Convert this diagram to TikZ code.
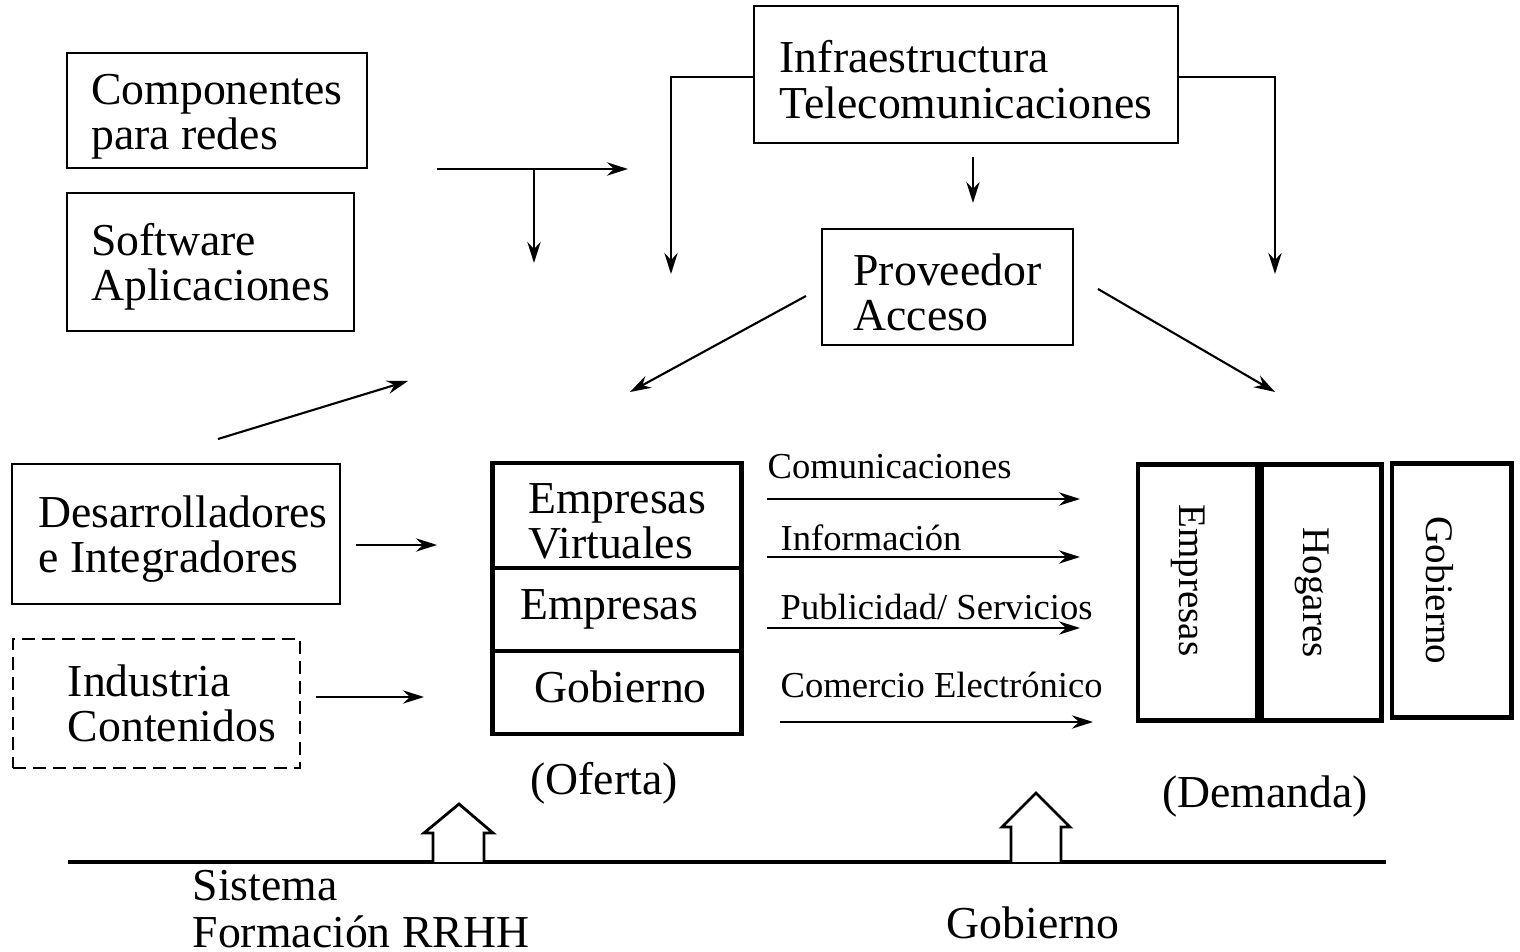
\documentclass[tikz,border=0pt]{standalone}
\usepackage{fontspec}
\setmainfont{Liberation Serif}
\usetikzlibrary{arrows.meta}

\newcommand{\bigfnt}{\fontsize{13}{12.9}\selectfont}
\newcommand{\smlfnt}{\fontsize{10.4}{12}\selectfont}
\newcommand{\rotfnt}{\fontsize{11.1}{12}\selectfont}
\newcommand{\topstrut}{\rule{0pt}{12pt}}

\tikzset{
    box/.style={draw, line width=0.6pt, align=left, inner sep=0pt, font=\bigfnt},
    thickbox/.style={draw, line width=1.4pt, align=left, inner sep=0pt},
    lbl/.style={inner sep=0pt, font=\smlfnt},
    biglbl/.style={inner sep=0pt, align=left, font=\bigfnt},
    flow/.style={->, line width=0.6pt}
}

\begin{document}
\begin{tikzpicture}[x=0.01cm, y=-0.01cm, >={Stealth[length=6pt,width=3.8pt,inset=2pt]}]
            \useasboundingbox (0,0) rectangle (1520,952);

            % suppliers and infrastructure
            \node[box, minimum width=3cm, minimum height=1.15cm] (comp) at (217,110.5) {\topstrut Componentes\\para redes};
            \node[box, minimum width=2.87cm, minimum height=1.38cm] (soft) at (210.5,262) {\topstrut Software\\Aplicaciones};
            \node[box, minimum width=4.24cm, minimum height=1.37cm] (infra) at (966,74.5) {\topstrut Infraestructura\\Telecomunicaciones};
            \node[box, minimum width=2.51cm, minimum height=1.16cm] (prov) at (947.5,287) {\topstrut Proveedor\\Acceso};
            \node[box, minimum width=3.28cm, minimum height=1.4cm] (desa) at (176,534) {\hspace*{0.14cm}\topstrut Desarrolladores\\\hspace*{0.14cm}e Integradores};
            \node[box, dash pattern=on 3.7pt off 2pt, minimum width=2.87cm, minimum height=1.29cm] (indu) at (156.5,703.5) {\hspace*{0.31cm}Industria\\\hspace*{0.31cm}Contenidos};

            % offer
            \begin{scope}[every node/.style={thickbox, font=\bigfnt, minimum width=2.48cm}]
                \node[minimum height=1.05cm] (ofVirt) at (617,515.5) {\topstrut Empresas\\Virtuales};
                \node[minimum height=0.83cm, text height=8pt, text depth=2.5pt] (ofEmp) at (617,609.5) {Empresas\hspace{0.16cm}};
                \node[minimum height=0.83cm, text height=8pt, text depth=2.5pt] (ofGob) at (617,692.5) {\hspace{2pt}Gobierno};
            \end{scope}

            % demand
            \begin{scope}[every node/.style={thickbox, font=\rotfnt, rotate=-90, minimum height=1.19cm, text height=12pt, text depth=1.6pt}]
                \node[minimum width=2.55cm] (dmEmp) at (1197.5,592.5) {Empresas\hspace{0.24cm}};
                \node[minimum width=2.55cm] (dmHog) at (1321.5,592.5) {Hogares};
                \node[minimum width=2.54cm, text height=14pt, text depth=0pt] (dmGob) at (1451.5,590.5) {Gobierno};
            \end{scope}

            % flow labels
            \node[lbl, anchor=west] (lCom) at (767,467) {Comunicaciones};
            \node[lbl, anchor=west] (lInf) at (780,538) {Información};
            \node[lbl, anchor=west] (lPub) at (780,607) {Publicidad/ Servicios};
            \node[lbl, anchor=west] (lEle) at (780,685) {Comercio Electrónico};

            \node[biglbl] (oferta) at (604,783) {(Oferta)};
            \node[biglbl] (demanda) at (1265,797) {(Demanda)};
            \node[biglbl, anchor=west, font=\fontsize{13}{13.4}\selectfont] (sist) at (192,909) {Sistema\\Formación RRHH};
            \node[biglbl] (gobBase) at (1033,923) {Gobierno};

            % free arrow ends
            \coordinate (cCompA) at (437,169);
            \coordinate (cCompB) at (628,169);
            \coordinate (cCompJ) at (534,169);
            \coordinate (cCompD) at (534,263);
            \coordinate (cInfL) at (671,274);
            \coordinate (cInfR) at (1275,274);
            \coordinate (cInfA) at (973,157);
            \coordinate (cInfB) at (973,203);
            \coordinate (cProL1) at (806,296);
            \coordinate (cProL2) at (630,392);
            \coordinate (cProR1) at (1098,289);
            \coordinate (cProR2) at (1275,392);
            \coordinate (cDesU1) at (218,439);
            \coordinate (cDesU2) at (408,381);
            \coordinate (cDes1) at (356,545);
            \coordinate (cDes2) at (437,545);
            \coordinate (cInd1) at (316,697);
            \coordinate (cInd2) at (424,697);

            \coordinate (fCom1) at (767,499);
            \coordinate (fCom2) at (1080,499);
            \coordinate (fInf1) at (767,557);
            \coordinate (fInf2) at (1080,557);
            \coordinate (fPub1) at (767,628);
            \coordinate (fPub2) at (1080,628);
            \coordinate (fEle1) at (780,722);
            \coordinate (fEle2) at (1093,722);

            \coordinate (baseL) at (68,862);
            \coordinate (baseR) at (1386,862);

            \begin{scope}[every edge/.style={draw, flow}]
                \path (cCompA) edge (cCompB);
                \path (cCompJ) edge (cCompD);
                \path (cInfA) edge (cInfB);
                \path (cProL1) edge (cProL2);
                \path (cProR1) edge (cProR2);
                \path (cDesU1) edge (cDesU2);
                \path (cDes1) edge (cDes2);
                \path (cInd1) edge (cInd2);

                \path (fCom1) edge (fCom2);
                \path (fInf1) edge (fInf2);
                \path (fPub1) edge (fPub2);
                \path (fEle1) edge (fEle2);
            \end{scope}
            \draw[flow] ([yshift=-0.025cm]infra.west) -| (cInfL);
            \draw[flow] ([yshift=-0.025cm]infra.east) -| (cInfR);

            % base line and block arrows
            \draw[line width=0.9pt] (baseL) -- (baseR);
            \draw[line width=0.8pt, fill=white] (433,862) -- (433,833) -- (424,833) -- (459,804) -- (493,833) -- (484,833) -- (484,862);
            \draw[line width=0.8pt, fill=white] (1011,862) -- (1011,827) -- (1002,827) -- (1036,793) -- (1070,827) -- (1061,827) -- (1061,862);
\end{tikzpicture}
\end{document}
